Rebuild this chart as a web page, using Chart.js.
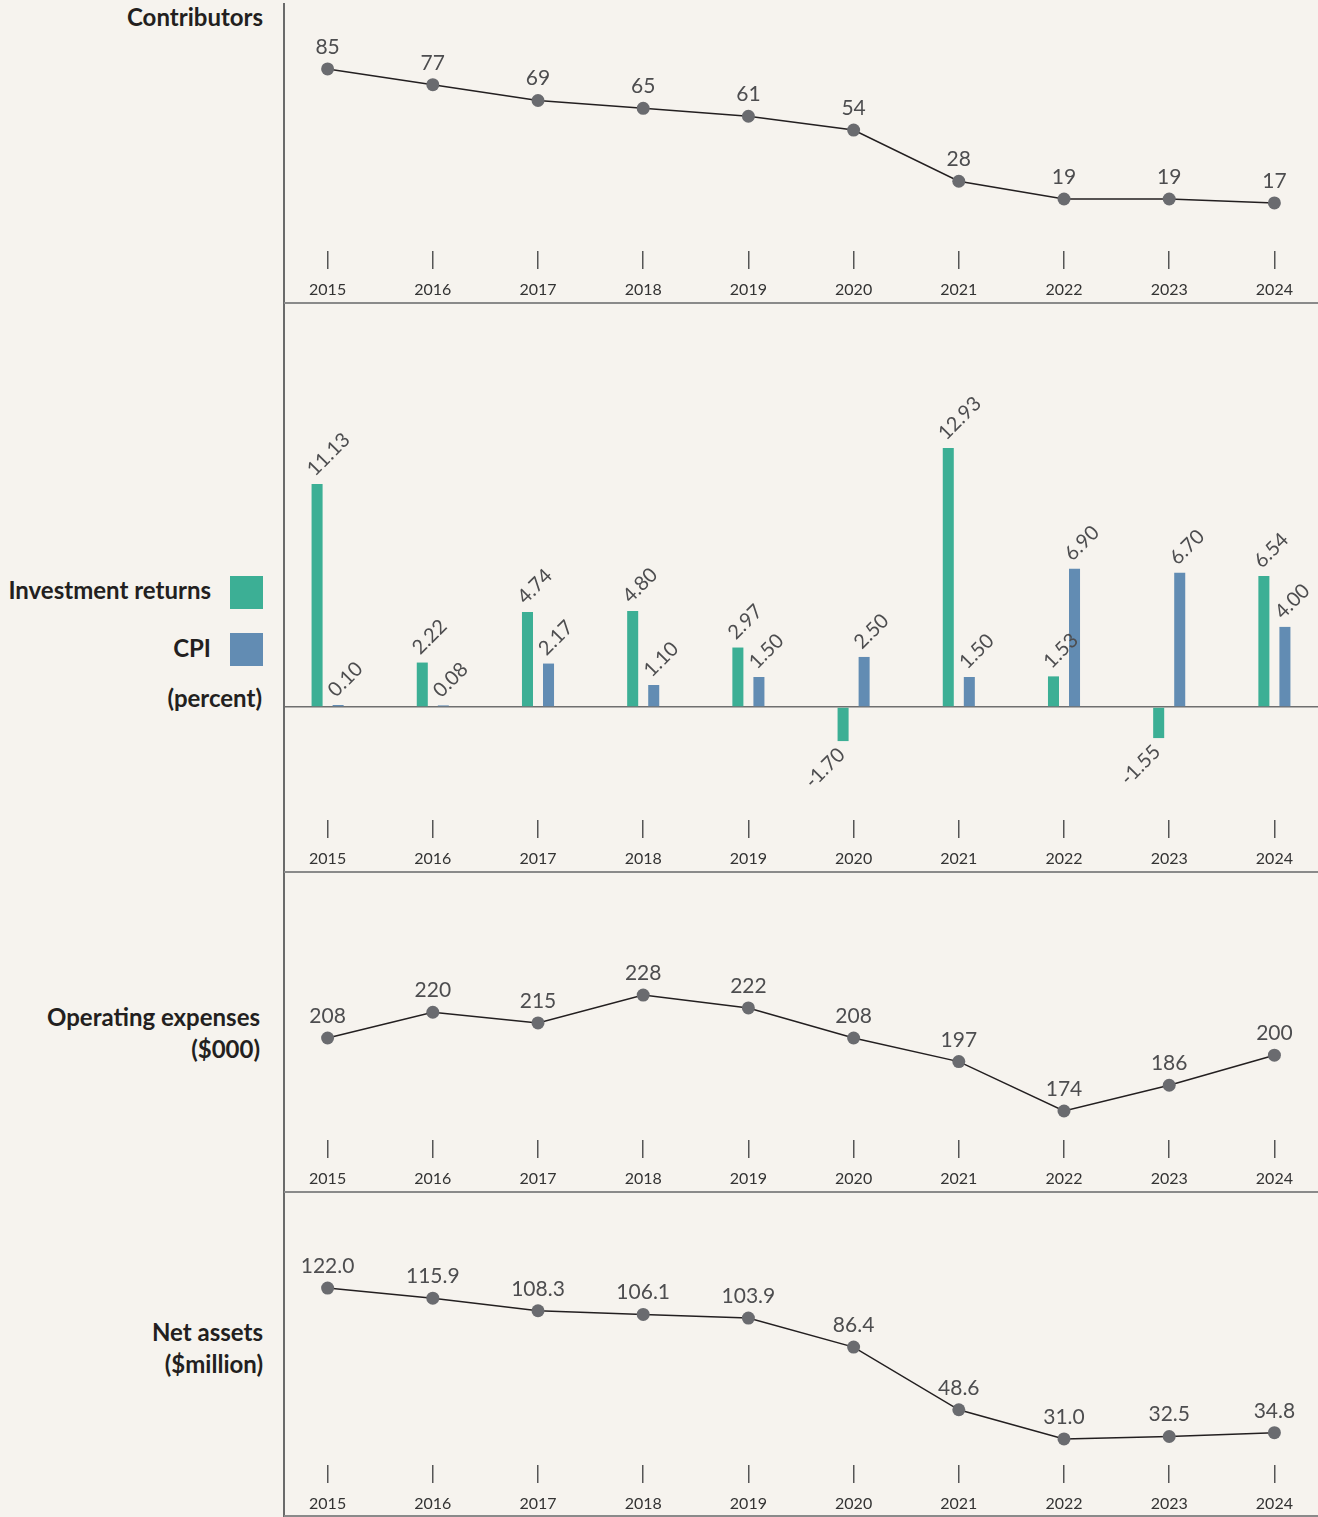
<!DOCTYPE html>
<html>
<head>
<meta charset="utf-8">
<script src="https://cdn.jsdelivr.net/npm/chart.js@4.4.1/dist/chart.umd.min.js"></script>
<style>
  html, body { margin: 0; padding: 0; }
  body { width: 1318px; height: 1517px; background: #f6f3ee; position: relative; overflow: hidden; font-family: Lato, "Open Sans", sans-serif; }
  .panel { position: absolute; left: 285px; width: 1033px; overflow: hidden; }
  .panel canvas { position: absolute; left: -10px; top: 0; }
  .lbl { position: absolute; left: 0; text-align: right; font-weight: bold; font-size: 24px; line-height: 32px; color: #231f20; white-space: nowrap; }
  .sq { position: absolute; left: 230px; width: 33px; height: 33px; }
  .vline { position: absolute; left: 283px; top: 3px; width: 1.5px; height: 1514px; background: #6a6a6a; }
  .hline { position: absolute; left: 284px; width: 1034px; height: 1.5px; background: #8a8a8a; }
</style>
</head>
<body>

<div class="lbl" style="top:1px; width:263px;">Contributors</div>
<div class="lbl" style="top:574px; width:211px;">Investment returns</div>
<div class="sq" style="top:576px; background:#3caf95;"></div>
<div class="lbl" style="top:632px; width:211px;">CPI</div>
<div class="sq" style="top:633px; background:#628cb3;"></div>
<div class="lbl" style="top:682px; width:262px;">(percent)</div>
<div class="lbl" style="top:1001px; width:260px;">Operating expenses</div>
<div class="lbl" style="top:1033px; width:260px;">($000)</div>
<div class="lbl" style="top:1316px; width:263px;">Net assets</div>
<div class="lbl" style="top:1348px; width:263px;">($million)</div>

<div class="panel" style="top:0px; height:303px;"><canvas id="contribChart" width="1052" height="303"></canvas></div>
<div class="panel" style="top:303px; height:569px;"><canvas id="returnsChart" width="1052" height="569"></canvas></div>
<div class="panel" style="top:872px; height:320px;"><canvas id="expensesChart" width="1052" height="320"></canvas></div>
<div class="panel" style="top:1192px; height:325px;"><canvas id="assetsChart" width="1052" height="325"></canvas></div>

<div class="vline"></div>
<div class="hline" style="top:302px;"></div>
<div class="hline" style="top:871px;"></div>
<div class="hline" style="top:1191px;"></div>
<div class="hline" style="top:1515px;"></div>

<script>
// data
const years = ['2015', '2016', '2017', '2018', '2019', '2020', '2021', '2022', '2023', '2024'];
const contributors = [85, 77, 69, 65, 61, 54, 28, 19, 19, 17];
const investmentReturns = [11.13, 2.22, 4.74, 4.80, 2.97, -1.70, 12.93, 1.53, -1.55, 6.54];
const cpi = [0.10, 0.08, 2.17, 1.10, 1.50, 2.50, 1.50, 6.90, 6.70, 4.00];
const operatingExpenses = [208, 220, 215, 228, 222, 208, 197, 174, 186, 200];
const netAssets = [122.0, 115.9, 108.3, 106.1, 103.9, 86.4, 48.6, 31.0, 32.5, 34.8];

const FONT = 'Lato, "Open Sans", sans-serif';
const pointGrey = '#6a6b6f';
const labelGrey = '#4d4d4f';

// x axis: floating tick marks with the year under them, no axis line
function xAxis() {
  return {
    type: 'category',
    offset: true,
    border: { display: false },
    grid: { offset: false, drawOnChartArea: false, drawTicks: true, tickLength: 18, color: '#555', lineWidth: 1.5 },
    ticks: { color: '#333', font: { family: FONT, size: 16 }, padding: 11, autoSkip: false, maxRotation: 0 },
    afterFit: function (axis) { axis.height = 52; }
  };
}

// value labels drawn above the points / at the end of the bars
const valueLabels = {
  id: 'valueLabels',
  afterDatasetsDraw(chart, args, opts) {
    const ctx = chart.ctx;
    chart.data.datasets.forEach(function (ds, di) {
      const meta = chart.getDatasetMeta(di);
      meta.data.forEach(function (el, i) {
        const v = ds.data[i];
        const txt = v.toFixed(opts.decimals);
        ctx.save();
        ctx.fillStyle = labelGrey;
        if (meta.type === 'bar') {
          ctx.font = '20px ' + FONT;
          ctx.textBaseline = 'alphabetic';
          if (v >= 0) {
            ctx.translate(el.x - 2, el.y - 7);
            ctx.rotate(-Math.PI / 4);
            ctx.textAlign = 'left';
          } else {
            ctx.translate(el.x + 3, el.y + 15);
            ctx.rotate(-Math.PI / 4);
            ctx.textAlign = 'right';
          }
          ctx.fillText(txt, 0, 0);
        } else {
          ctx.font = '21px ' + FONT;
          ctx.textAlign = 'center';
          ctx.textBaseline = 'alphabetic';
          ctx.fillText(txt, el.x, el.y - 15);
        }
        ctx.restore();
      });
    });
  }
};

function makeLineChart(id, values, yMin, yMax, decimals) {
  return new Chart(document.getElementById(id), {
    type: 'line',
    data: {
      labels: years,
      datasets: [{
        data: values,
        borderColor: '#231f20',
        borderWidth: 1.5,
        pointRadius: 6.5,
        pointBackgroundColor: pointGrey,
        pointBorderWidth: 0,
        tension: 0
      }]
    },
    options: {
      responsive: false,
      animation: false,
      layout: { padding: 0, autoPadding: false },
      plugins: { legend: { display: false }, tooltip: { enabled: false }, valueLabels: { decimals: decimals } },
      scales: {
        x: xAxis(),
        y: { display: false, min: yMin, max: yMax }
      }
    },
    plugins: [valueLabels]
  });
}

makeLineChart('contribChart', contributors, -7.4, 120.0, 0);
makeLineChart('expensesChart', operatingExpenses, 160.5, 285.3, 0);
makeLineChart('assetsChart', netAssets, 15.3, 179.9, 1);

// investment returns vs CPI
new Chart(document.getElementById('returnsChart'), {
  type: 'bar',
  data: {
    labels: years,
    datasets: [
      { label: 'Investment returns', data: investmentReturns, backgroundColor: '#3caf95' },
      { label: 'CPI', data: cpi, backgroundColor: '#628cb3' }
    ]
  },
  options: {
    responsive: false,
    animation: false,
    layout: { padding: 0, autoPadding: false },
    categoryPercentage: 0.4,
    barPercentage: 0.524,
    plugins: { legend: { display: false }, tooltip: { enabled: false }, valueLabels: { decimals: 2 } },
    scales: {
      x: xAxis(),
      y: {
        min: -5.64,
        max: 20.17,
        border: { display: false },
        ticks: { display: false, stepSize: 5 },
        grid: {
          drawTicks: false,
          lineWidth: 1.5,
          color: function (c) { return c.tick && c.tick.value === 0 ? '#6f6f6f' : 'rgba(0,0,0,0)'; }
        },
        afterFit: function (axis) { axis.width = 0; }
      }
    }
  },
  plugins: [valueLabels]
});
</script>
</body>
</html>
